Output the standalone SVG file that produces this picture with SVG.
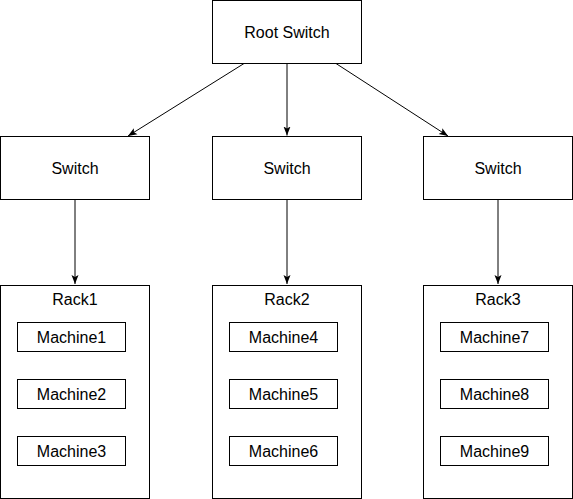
<svg xmlns="http://www.w3.org/2000/svg" width="573" height="499" viewBox="0 0 573 499">
<style>
rect{fill:#fff;stroke:#000;stroke-width:1}
text{font-family:"Liberation Sans",Arial,sans-serif;font-size:16px;fill:#000;text-anchor:middle}
.c line{stroke:#000;stroke-width:1;marker-end:url(#a)}
</style>
<defs>
<marker id="a" markerUnits="userSpaceOnUse" markerWidth="10" markerHeight="8" refX="9" refY="4" orient="auto">
<path d="M0,0.5 L9,4 L0,7.5 L2,4 Z" fill="#000"/>
</marker>
</defs>
<rect width="573" height="499" style="stroke:none"/>
<g class="c" id="connectors">
<line x1="244" y1="63.5" x2="128" y2="136"/>
<line x1="287" y1="63.5" x2="287" y2="135.5"/>
<line x1="336" y1="63.5" x2="448" y2="136"/>
<line x1="75" y1="199.5" x2="75" y2="284"/>
<line x1="287" y1="199.5" x2="287" y2="284"/>
<line x1="498" y1="199.5" x2="498" y2="284"/>
</g>
<g id="root"><rect x="212.5" y="0.5" width="149" height="63"/><text x="287" y="38">Root Switch</text></g>
<g id="switch1"><rect x="0.5" y="136.5" width="149" height="63"/><text x="75" y="174">Switch</text></g>
<g id="switch2"><rect x="212.5" y="136.5" width="149" height="63"/><text x="287" y="174">Switch</text></g>
<g id="switch3"><rect x="423.5" y="136.5" width="149" height="63"/><text x="498" y="174">Switch</text></g>
<g id="rack1"><rect x="0.5" y="285.5" width="149" height="213"/><text x="75" y="305">Rack1</text></g>
<g id="rack2"><rect x="212.5" y="285.5" width="149" height="213"/><text x="287" y="305">Rack2</text></g>
<g id="rack3"><rect x="423.5" y="285.5" width="149" height="213"/><text x="498" y="305">Rack3</text></g>
<g id="machine1"><rect x="17.5" y="322.5" width="108" height="29"/><text x="71.5" y="343">Machine1</text></g>
<g id="machine2"><rect x="17.5" y="379.5" width="108" height="29"/><text x="71.5" y="400">Machine2</text></g>
<g id="machine3"><rect x="17.5" y="436.5" width="108" height="29"/><text x="71.5" y="457">Machine3</text></g>
<g id="machine4"><rect x="229.5" y="322.5" width="108" height="29"/><text x="283.5" y="343">Machine4</text></g>
<g id="machine5"><rect x="229.5" y="379.5" width="108" height="29"/><text x="283.5" y="400">Machine5</text></g>
<g id="machine6"><rect x="229.5" y="436.5" width="108" height="29"/><text x="283.5" y="457">Machine6</text></g>
<g id="machine7"><rect x="440.5" y="322.5" width="108" height="29"/><text x="494.5" y="343">Machine7</text></g>
<g id="machine8"><rect x="440.5" y="379.5" width="108" height="29"/><text x="494.5" y="400">Machine8</text></g>
<g id="machine9"><rect x="440.5" y="436.5" width="108" height="29"/><text x="494.5" y="457">Machine9</text></g>
</svg>
